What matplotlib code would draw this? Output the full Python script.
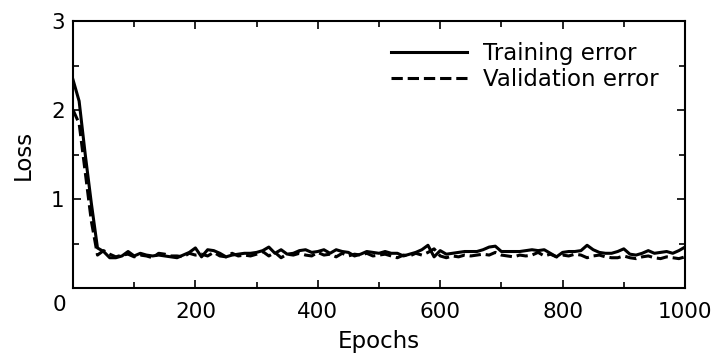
import matplotlib
matplotlib.use("Agg")
import matplotlib.pyplot as plt
from matplotlib.ticker import MultipleLocator, FixedFormatter, FixedLocator
from matplotlib.transforms import ScaledTranslation

epochs = list(range(0, 1001, 10))

training_error = [
    2.34, 2.10, 1.50, 0.95, 0.45, 0.41, 0.34, 0.34, 0.36, 0.41,
    0.36, 0.39, 0.37, 0.36, 0.37, 0.36, 0.35, 0.34, 0.37, 0.40,
    0.45, 0.35, 0.43, 0.42, 0.39, 0.35, 0.37, 0.38, 0.39, 0.39,
    0.40, 0.42, 0.46, 0.39, 0.43, 0.38, 0.39, 0.42, 0.43, 0.40,
    0.41, 0.43, 0.39, 0.43, 0.41, 0.40, 0.36, 0.38, 0.41, 0.40,
    0.39, 0.41, 0.39, 0.39, 0.36, 0.38, 0.40, 0.43, 0.48, 0.35,
    0.42, 0.38, 0.39, 0.40, 0.41, 0.41, 0.41, 0.43, 0.46, 0.47,
    0.41, 0.41, 0.41, 0.41, 0.42, 0.43, 0.42, 0.43, 0.39, 0.35,
    0.40, 0.41, 0.41, 0.42, 0.48, 0.43, 0.40, 0.39, 0.39, 0.41,
    0.44, 0.38, 0.37, 0.39, 0.42, 0.39, 0.40, 0.41, 0.39, 0.42,
    0.46,
]

validation_error = [
    2.00, 1.85, 1.30, 0.75, 0.37, 0.42, 0.38, 0.35, 0.37, 0.38,
    0.35, 0.37, 0.36, 0.34, 0.39, 0.38, 0.36, 0.36, 0.35, 0.39,
    0.37, 0.38, 0.36, 0.40, 0.36, 0.35, 0.39, 0.36, 0.37, 0.36,
    0.38, 0.41, 0.36, 0.40, 0.34, 0.38, 0.37, 0.39, 0.37, 0.36,
    0.40, 0.37, 0.38, 0.35, 0.39, 0.36, 0.38, 0.37, 0.39, 0.36,
    0.37, 0.38, 0.36, 0.34, 0.37, 0.36, 0.39, 0.37, 0.40, 0.44,
    0.36, 0.34, 0.36, 0.35, 0.37, 0.36, 0.37, 0.38, 0.37, 0.40,
    0.37, 0.36, 0.35, 0.37, 0.36, 0.37, 0.40, 0.36, 0.38, 0.35,
    0.37, 0.36, 0.38, 0.37, 0.34, 0.36, 0.37, 0.35, 0.34, 0.34,
    0.36, 0.34, 0.33, 0.35, 0.36, 0.34, 0.33, 0.35, 0.34, 0.33,
    0.35,
]

x_ticks = [200, 400, 600, 800, 1000]
x_tick_labels = ['200', '400', '600', '800', '1000']
y_ticks = [1, 2, 3]
y_tick_labels = ['1', '2', '3']

plt.rcParams['font.family'] = ['DejaVu Sans']

fig = plt.figure(figsize=(7.14, 3.54), dpi=100)
ax = fig.add_axes([73/714, 1 - 288/354, (685 - 73)/714, (288 - 21)/354])

ax.plot(epochs, training_error, color='black', lw=2.2, ls='-', label='Training error')
ax.plot(epochs, validation_error, color='black', lw=2.2, ls='--', label='Validation error')

ax.set_xlim(0, 1000)
ax.set_ylim(0, 3)
ax.xaxis.set_major_locator(FixedLocator(x_ticks))
ax.xaxis.set_major_formatter(FixedFormatter(x_tick_labels))
ax.xaxis.set_minor_locator(MultipleLocator(100))
ax.yaxis.set_major_locator(FixedLocator(y_ticks))
ax.yaxis.set_major_formatter(FixedFormatter(y_tick_labels))
ax.yaxis.set_minor_locator(MultipleLocator(0.5))
ax.tick_params(which='both', direction='in', top=True, right=True, labelsize=15.5, width=1.2)
ax.tick_params(which='major', length=6)
ax.tick_params(which='minor', length=4)
ax.tick_params(axis='x', which='major', pad=10)
ax.tick_params(axis='y', which='major', pad=6)
for s in ax.spines.values():
    s.set_linewidth(1.5)

# shared origin label
ax.text(0, 0, '0', fontsize=15.5, ha='right', va='top',
        transform=ax.transData + ScaledTranslation(-5/72, -5/72, fig.dpi_scale_trans))

ax.set_xlabel('Epochs', fontsize=16.5, labelpad=6)
ax.set_ylabel('Loss', fontsize=16.5, labelpad=12)

ax.legend(loc='upper right', frameon=False, fontsize=16.5, handlelength=3.3,
          borderaxespad=0.5, borderpad=0.4, labelspacing=0.15, handletextpad=0.7,
          bbox_to_anchor=(0.99, 1.0))

fig.savefig('out.png', dpi=100)
